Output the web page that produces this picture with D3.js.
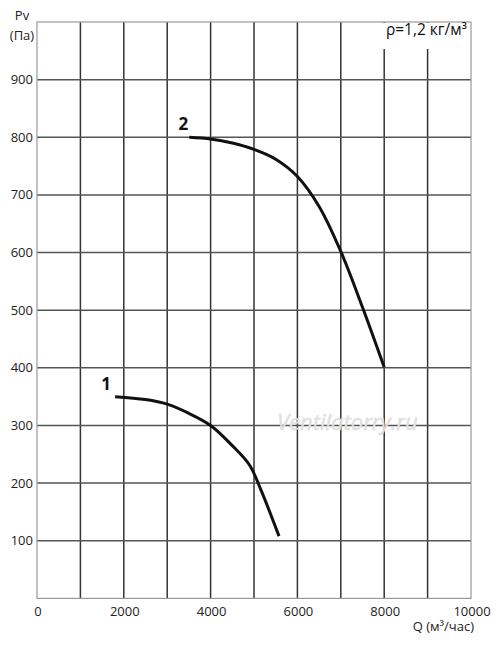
<!DOCTYPE html>
<html><head><meta charset="utf-8">
<script src="https://cdn.jsdelivr.net/npm/d3@7"></script>
<style>body{margin:0;background:#fff}svg{display:block}</style>
</head><body>
<svg id="c" width="500" height="645"></svg>
<script>
const xTicks = [0, 2000, 4000, 6000, 8000, 10000];
const xGrid = [1000,2000,3000,4000,5000,6000,7000,8000,9000];
const yTicks = [100,200,300,400,500,600,700,800,900];
const curve1 = [[1800,350],[2500,345],[3000,337],[3500,321],[4000,300],[4500,265],[4900,231],[5150,190],[5576,108]];
const curve2 = [[3510,800],[4000,797],[4500,790],[5000,779],[5500,762],[6000,732],[6500,680],[7000,602],[7500,505],[8000,401]];
const seriesLabels = ["1","2"];

const svg = d3.select("#c");
const L=37, R=471, T=22, B=598.4;
const x = d3.scaleLinear().domain([0,10000]).range([L,R]);
const y = d3.scaleLinear().domain([0,1000]).range([B,T]);
const font = "'Open Sans', sans-serif";

// grid
svg.append("g").selectAll("line").data(xGrid).join("line")
  .attr("x1",d=>x(d)).attr("x2",d=>x(d)).attr("y1",T).attr("y2",B)
  .attr("stroke","#333").attr("stroke-width",1.5);
svg.append("g").selectAll("line").data(yTicks).join("line")
  .attr("x1",L).attr("x2",R).attr("y1",d=>y(d)).attr("y2",d=>y(d))
  .attr("stroke","#555").attr("stroke-width",1.5);
// border
svg.append("rect").attr("x",L).attr("y",T).attr("width",R-L).attr("height",B-T)
  .attr("fill","none").attr("stroke","#999").attr("stroke-width",1.2);

// density label box
svg.append("rect").attr("x",372).attr("y",T+1).attr("width",R-372-1).attr("height",26).attr("fill","#fff");
svg.append("text").attr("x",467).attr("y",34.5).attr("text-anchor","end")
  .attr("font-family",font).attr("font-size",15.5).attr("fill","#111").text("ρ=1,2 кг/м³");

// watermark
svg.append("text").attr("x",277).attr("y",430).attr("font-family",font).attr("font-style","italic")
  .attr("font-size",22).attr("fill","#e4e4e4").attr("stroke","#d8d8d8").attr("stroke-width",0.4)
  .text("Ventilatorry.ru");

// y ticks
svg.append("g").selectAll("text").data(yTicks).join("text")
  .attr("x",33).attr("y",d=>y(d)).attr("dy","0.35em").attr("text-anchor","end")
  .attr("font-family",font).attr("font-size",13).attr("fill","#222").text(d=>d);
// x ticks
svg.append("g").selectAll("text").data(xTicks).join("text")
  .attr("x",d=>x(d)+1).attr("y",615.5).attr("text-anchor","middle")
  .attr("font-family",font).attr("font-size",13).attr("fill","#222").text(d=>d);

// axis titles
svg.append("text").attr("x",22).attr("y",20).attr("text-anchor","middle")
  .attr("font-family",font).attr("font-size",13).attr("fill","#222").text("Pv");
svg.append("text").attr("x",22).attr("y",40).attr("text-anchor","middle")
  .attr("font-family",font).attr("font-size",13).attr("fill","#222").text("(Па)");
svg.append("text").attr("x",474).attr("y",631).attr("text-anchor","end")
  .attr("font-family",font).attr("font-size",13).attr("fill","#222").text("Q (м³/час)");

// curves
const line = d3.line().x(d=>x(d[0])).y(d=>y(d[1])).curve(d3.curveCatmullRom.alpha(0.5));
[curve1,curve2].forEach(c=>{
  svg.append("path").attr("d",line(c)).attr("fill","none").attr("stroke","#111").attr("stroke-width",3);
});
// series labels
svg.append("text").attr("x",x(curve1[0][0])-9).attr("y",y(curve1[0][1])-7).attr("text-anchor","middle")
  .attr("font-family",font).attr("font-weight","bold").attr("font-size",17).attr("fill","#111").text(seriesLabels[0]);
svg.append("text").attr("x",x(curve2[0][0])-6).attr("y",y(curve2[0][1])-7).attr("text-anchor","middle")
  .attr("font-family",font).attr("font-weight","bold").attr("font-size",17).attr("fill","#111").text(seriesLabels[1]);
</script>
</body></html>
